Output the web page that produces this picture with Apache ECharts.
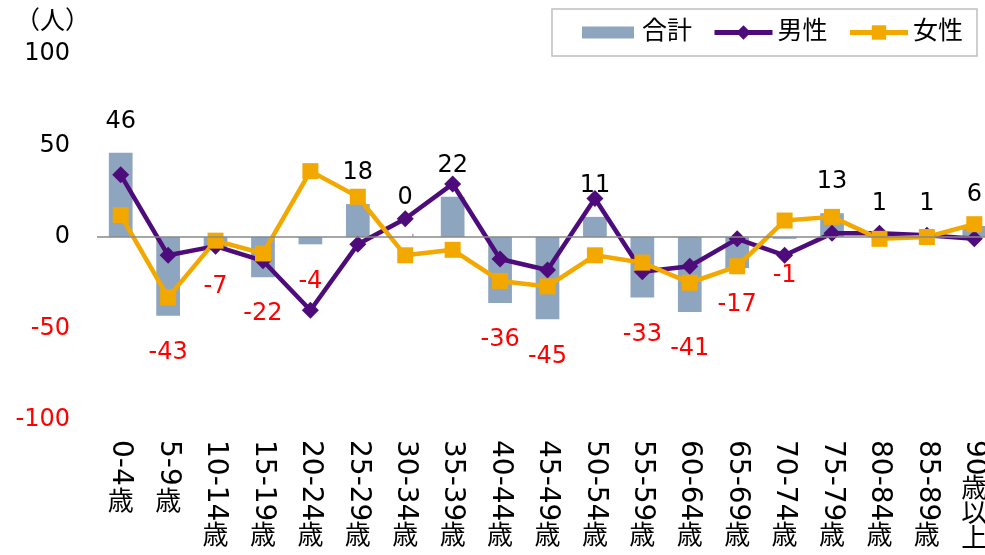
<!DOCTYPE html>
<html>
<head>
<meta charset="utf-8">
<script src="https://cdn.jsdelivr.net/npm/echarts@6/dist/echarts.min.js"></script>
<style>
  html, body { margin: 0; padding: 0; background: #fff; }
  #main { width: 985px; height: 555px; }
</style>
</head>
<body>
<div id="main"></div>
<script>
// 年齢階級
const categories = [
  "0-4歳", "5-9歳", "10-14歳", "15-19歳", "20-24歳", "25-29歳", "30-34歳",
  "35-39歳", "40-44歳", "45-49歳", "50-54歳", "55-59歳", "60-64歳",
  "65-69歳", "70-74歳", "75-79歳", "80-84歳", "85-89歳", "90歳以上"
];
// 合計 / 男性 / 女性（人）
const totalValues = [46, -43, -7, -22, -4, 18, 0, 22, -36, -45, 11, -33, -41, -17, -1, 13, 1, 1, 6];
const maleValues = [34, -10, -5, -13, -40, -4, 10, 29, -12, -18, 21, -19, -16, -1, -10, 2, 2, 1, -1];
const femaleValues = [12, -33, -2, -9, 36, 22, -10, -7, -24, -27, -10, -14, -25, -16, 9, 11, -1, 0, 7];
const yMin = -100;
const yMax = 100;
const yStep = 50;

const FONT = "'DejaVu Sans', 'Noto Sans CJK JP', sans-serif";

const chart = echarts.init(document.getElementById("main"));

// 棒のラベル：マイナスは赤で下側、0 は引き出し線つき
const barData = totalValues.map(v => {
  const item = {
    value: v,
    label: v < 0
      ? { position: "bottom", color: "#FF0000", distance: 25 }
      : { position: "top", color: "#000000", distance: 19 }
  };
  if (v === 0) {
    item.label.distance = 27;
    item.labelLine = { show: true, lineStyle: { color: "#a6a6a6", width: 1.5 } };
  }
  return item;
});

// 「0-4」の部分（横倒し）と「歳」の部分（縦書き）を分ける
function numPart(s) {
  return s.replace(/歳.*$/, "");
}
function kanjiPart(s) {
  const n = numPart(s);
  const gap = n.length >= 5 ? "gl" : n.length >= 3 ? "gs" : "gn";
  const chars = s.slice(n.length).split("");
  return "{" + gap + "| }\n" + chars.map(c => "{c|" + c + "}").join("\n");
}

const option = {
  animation: false,
  title: {
    text: "（人）",
    left: 15,
    top: 10,
    padding: 0,
    textStyle: { fontFamily: FONT, fontSize: 25, fontWeight: "normal", color: "#000" }
  },
  legend: {
    right: 8,
    top: 9,
    padding: [11, 14, 11, 24],
    borderColor: "#bfbfbf",
    borderWidth: 1.5,
    backgroundColor: "#fff",
    itemWidth: 58,
    itemHeight: 18,
    itemGap: 20,
    textStyle: { fontFamily: FONT, fontSize: 25, color: "#000" },
    data: [
      { name: "合計", icon: "rect", itemStyle: { borderColor: "#fff", borderWidth: 6 } },
      { name: "男性", lineStyle: { width: 5 } },
      { name: "女性", lineStyle: { width: 5 } }
    ]
  },
  // 右端は画面の外まで続いている
  grid: {
    left: 97,
    right: -13,
    top: 54,
    bottom: 135,
    containLabel: false,
    outerBoundsMode: "none"
  },
  xAxis: [
    {
      type: "category",
      data: categories,
      position: "bottom",
      axisLine: { show: false, onZero: false },
      axisTick: { show: false },
      axisLabel: {
        interval: 0,
        rotate: -90,
        margin: 20,
        fontFamily: FONT,
        fontSize: 28,
        color: "#000",
        formatter: numPart
      }
    },
    {
      type: "category",
      data: categories,
      position: "bottom",
      axisLine: { show: false, onZero: false },
      axisTick: { show: false },
      axisLabel: {
        interval: 0,
        margin: 0,
        fontFamily: FONT,
        fontSize: 26,
        color: "#000",
        formatter: kanjiPart,
        rich: {
          gs: { fontSize: 2, lineHeight: 71 },
          gl: { fontSize: 2, lineHeight: 105 },
          gn: { fontSize: 2, lineHeight: 58 },
          c: { fontFamily: FONT, fontSize: 26, lineHeight: 25 }
        }
      }
    }
  ],
  yAxis: {
    type: "value",
    min: yMin,
    max: yMax,
    interval: yStep,
    axisLine: { show: false },
    axisTick: { show: false },
    splitLine: { show: false },
    axisLabel: {
      margin: 27,
      fontFamily: FONT,
      fontSize: 24,
      color: function (value) {
        return value < 0 ? "#FF0000" : "#000000";
      }
    }
  },
  series: [
    {
      name: "合計",
      type: "bar",
      xAxisIndex: 0,
      barWidth: "50%",
      data: barData,
      itemStyle: { color: "#8EA5BF" },
      label: {
        show: true,
        fontFamily: FONT,
        fontSize: 24
      },
      markLine: {
        silent: true,
        symbol: "none",
        label: { show: false },
        lineStyle: { color: "#888888", width: 1.5, type: "solid" },
        data: [{ yAxis: 0 }]
      }
    },
    {
      name: "男性",
      type: "line",
      xAxisIndex: 0,
      data: maleValues,
      symbol: "diamond",
      symbolSize: [17, 17],
      lineStyle: { color: "#4D0B7B", width: 4.5 },
      itemStyle: { color: "#4D0B7B" }
    },
    {
      name: "女性",
      type: "line",
      xAxisIndex: 0,
      data: femaleValues,
      symbol: "rect",
      symbolSize: 16,
      lineStyle: { color: "#F3A800", width: 4.5 },
      itemStyle: { color: "#F3A800" }
    }
  ]
};

chart.setOption(option);
</script>
</body>
</html>
